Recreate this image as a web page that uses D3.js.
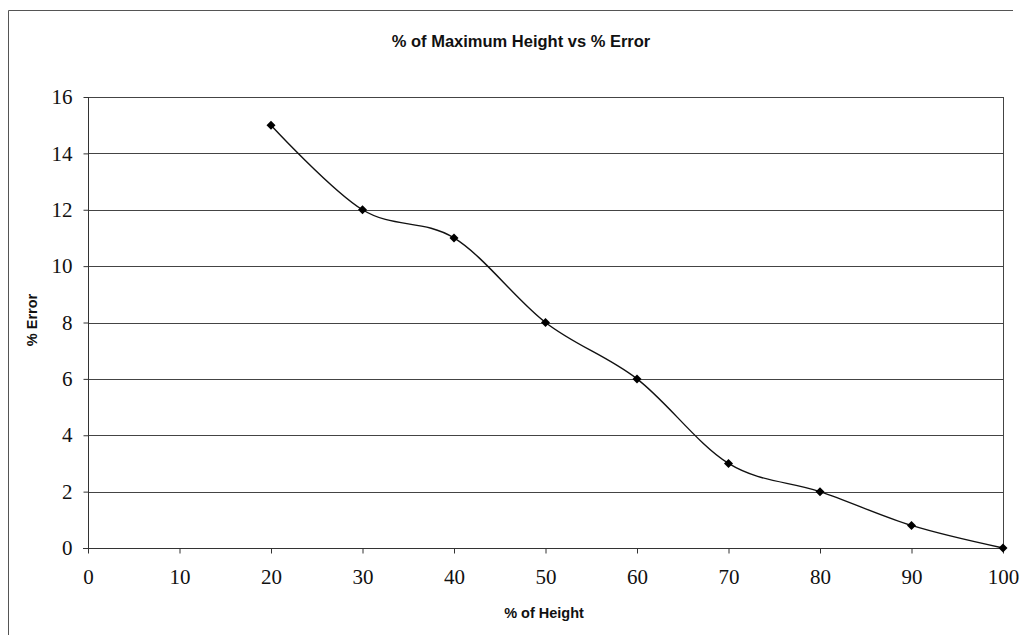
<!DOCTYPE html>
<html>
<head>
<meta charset="utf-8">
<script src="https://cdn.jsdelivr.net/npm/d3@7"></script>
<style>
  html, body { margin: 0; padding: 0; background: #fff; }
  svg { display: block; }
</style>
</head>
<body>
<svg id="chart" width="1023" height="635"></svg>
<script>
// Percentage of maximum height against percentage error
const heightPct = [20, 30, 40, 50, 60, 70, 80, 90, 100];
const errorPct  = [15, 12, 11, 8, 6, 3, 2, 0.8, 0];
const xTicks = [0, 10, 20, 30, 40, 50, 60, 70, 80, 90, 100];
const yTicks = [0, 2, 4, 6, 8, 10, 12, 14, 16];

const svg = d3.select("#chart");
const W = 1023, H = 635;
const plot = { left: 88, top: 97, right: 1003, bottom: 548 };

const x = d3.scaleLinear().domain([0, 100]).range([plot.left, plot.right]);
const y = d3.scaleLinear().domain([0, 16]).range([plot.bottom, plot.top]);

// Outer chart frame (top and left edges)
svg.append("path")
  .attr("d", `M8.5,${H + 2} L8.5,10.5 L1013,10.5`)
  .attr("fill", "none").attr("stroke", "#555").attr("stroke-width", 1);

// Horizontal gridlines
svg.append("g")
  .selectAll("line")
  .data(yTicks.filter(d => d > 0))
  .join("line")
  .attr("x1", plot.left).attr("x2", plot.right)
  .attr("y1", d => Math.round(y(d)) + 0.5).attr("y2", d => Math.round(y(d)) + 0.5)
  .attr("stroke", "#444").attr("stroke-width", 1);

// Right edge of the plot area
svg.append("line")
  .attr("x1", plot.right + 0.5).attr("x2", plot.right + 0.5)
  .attr("y1", plot.top).attr("y2", plot.bottom)
  .attr("stroke", "#444");

// Y axis
const yAxis = svg.append("g")
  .attr("transform", `translate(${plot.left + 0.5},0)`)
  .call(d3.axisLeft(y).tickValues(yTicks).tickSize(5).tickPadding(11).tickFormat(d3.format("d")));
yAxis.select(".domain").attr("stroke", "#333").attr("d", `M0,${plot.top}V${plot.bottom + 5}`);
yAxis.selectAll(".tick line").attr("stroke", "#333");
yAxis.selectAll("text")
  .attr("font-family", "'Liberation Serif', 'Times New Roman', serif")
  .attr("font-size", 21).attr("fill", "#111");

// X axis
const xAxis = svg.append("g")
  .attr("transform", `translate(0,${plot.bottom + 0.5})`)
  .call(d3.axisBottom(x).tickValues(xTicks).tickSize(5).tickPadding(16).tickFormat(d3.format("d")));
xAxis.select(".domain").attr("stroke", "#333").attr("d", `M${plot.left - 5},0H${plot.right}`);
xAxis.selectAll(".tick line").attr("stroke", "#333");
xAxis.selectAll("text")
  .attr("font-family", "'Liberation Serif', 'Times New Roman', serif")
  .attr("font-size", 21).attr("fill", "#111");

// Smoothed series line
const pts = heightPct.map((h, i) => [h, errorPct[i]]);
const line = d3.line()
  .x(d => x(d[0])).y(d => y(d[1]))
  .curve(d3.curveCardinal.tension(0));
svg.append("path")
  .datum(pts)
  .attr("d", line)
  .attr("fill", "none").attr("stroke", "#111").attr("stroke-width", 1.4);

// Diamond markers
svg.append("g")
  .selectAll("path")
  .data(pts)
  .join("path")
  .attr("transform", d => `translate(${x(d[0])},${y(d[1])})`)
  .attr("d", "M0,-4.5L4.5,0L0,4.5L-4.5,0Z")
  .attr("fill", "#000");

// Titles
svg.append("text")
  .attr("x", 521).attr("y", 47)
  .attr("text-anchor", "middle")
  .attr("font-family", "'Liberation Sans', Arial, sans-serif")
  .attr("font-weight", "bold").attr("font-size", 16.5).attr("fill", "#111")
  .text("% of Maximum Height vs % Error");

svg.append("text")
  .attr("x", 544).attr("y", 618)
  .attr("text-anchor", "middle")
  .attr("font-family", "'Liberation Sans', Arial, sans-serif")
  .attr("font-weight", "bold").attr("font-size", 14.5).attr("fill", "#111")
  .text("% of Height");

svg.append("text")
  .attr("transform", "translate(37,320) rotate(-90)")
  .attr("text-anchor", "middle")
  .attr("font-family", "'Liberation Sans', Arial, sans-serif")
  .attr("font-weight", "bold").attr("font-size", 14.5).attr("fill", "#111")
  .text("% Error");
</script>
</body>
</html>
